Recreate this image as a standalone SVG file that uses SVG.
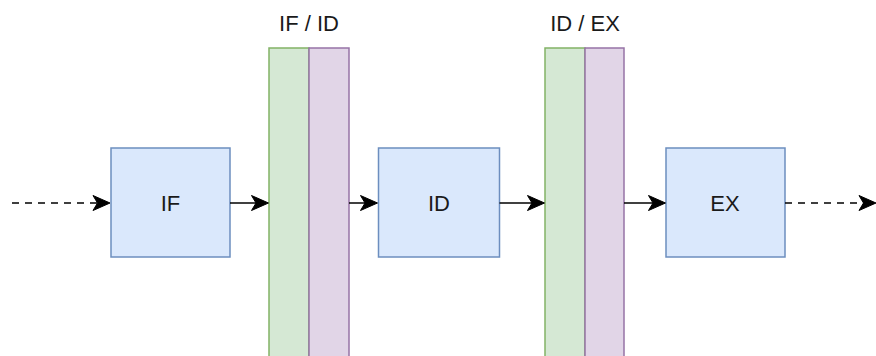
<svg xmlns="http://www.w3.org/2000/svg" width="876" height="356" viewBox="0 0 876 356">
<style>
.blk{fill:#dae8fc;stroke:#6c8ebf;stroke-width:1.5}
.g{fill:#d5e8d4;stroke:#82b366;stroke-width:1.5}
.p{fill:#e1d5e7;stroke:#9673a6;stroke-width:1.5}
.t{font-family:"Liberation Sans",Arial,sans-serif;font-size:22px;fill:#1a1a1a;text-anchor:middle}
.c{stroke:#000;stroke-width:1.5;fill:none}
.d{stroke-dasharray:7 6}
.h{fill:#000;stroke:#000;stroke-width:1;stroke-linejoin:miter}
</style>
<defs>
<path id="ah" class="h" d="M-17,-7.5 L0,0 L-17,7.5 L-12.5,0 Z"/>
</defs>
<rect width="876" height="356" fill="#fff"/>
<g id="ifid">
<rect class="g" x="269" y="48" width="40" height="330"/>
<rect class="p" x="309" y="48" width="40" height="330"/>
<text class="t" x="309" y="31">IF / ID</text>
</g>
<g id="idex">
<rect class="g" x="545" y="48" width="40" height="330"/>
<rect class="p" x="585" y="48" width="39" height="330"/>
<text class="t" x="585" y="31">ID / EX</text>
</g>
<g id="if">
<rect class="blk" x="111" y="148" width="119" height="109"/>
<text class="t" x="170.5" y="211">IF</text>
</g>
<g id="id">
<rect class="blk" x="378.5" y="148" width="121" height="109"/>
<text class="t" x="439" y="211">ID</text>
</g>
<g id="ex">
<rect class="blk" x="666" y="148" width="119" height="109"/>
<text class="t" x="725" y="211">EX</text>
</g>
<g id="connectors">
<path class="c d" d="M12,203 H98"/>
<use href="#ah" x="110" y="203"/>
<path class="c" d="M230,203 H257"/>
<use href="#ah" x="268.5" y="203"/>
<path class="c" d="M349,203 H366"/>
<use href="#ah" x="377.5" y="203"/>
<path class="c" d="M499.5,203 H533"/>
<use href="#ah" x="544.5" y="203"/>
<path class="c" d="M624,203 H654"/>
<use href="#ah" x="665.5" y="203"/>
<path class="c d" d="M785,203 H864"/>
<use href="#ah" x="876" y="203"/>
</g>
</svg>
